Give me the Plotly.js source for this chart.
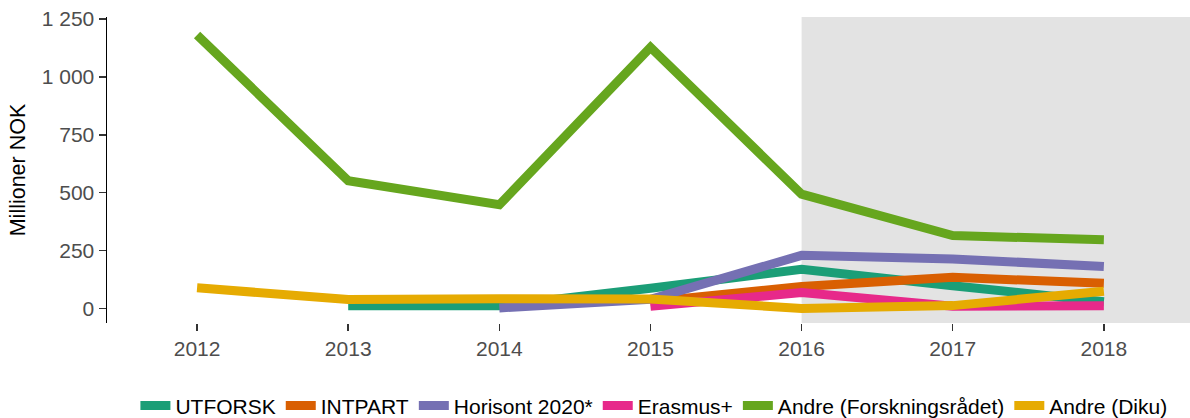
<!DOCTYPE html>
<html>
<head>
<meta charset="utf-8">
<script src="https://cdn.plot.ly/plotly-3.0.1.min.js"></script>
<style>html,body{margin:0;padding:0;background:#fff;}#chart{width:1190px;height:418px;}</style>
</head>
<body>
<div id="chart"></div>
<script>
const years = [2012, 2013, 2014, 2015, 2016, 2017, 2018];
const seriesNames = ["UTFORSK", "INTPART", "Horisont 2020*", "Erasmus+", "Andre (Forskningsrådet)", "Andre (Diku)"];
const utforsk = [null, 12, 12, 88, 170, 99, 30];
const intpart = [null, null, null, 30, 95, 135, 109];
const horisont = [null, null, 3, 40, 230, 214, 182];
const erasmus = [null, null, null, 10, 69, 10, 12];
const andreForsk = [1180, 552, 448, 1127, 494, 315, 297];
const andreDiku = [90, 39, 43, 41, 1, 13, 75];
const colors = ["#1B9E77", "#D95F02", "#7570B3", "#E7298A", "#66A61E", "#E6AB02"];
const shadeStart = 2016;

const allSeries = [utforsk, intpart, horisont, erasmus, andreForsk, andreDiku];
const traces = allSeries.map((vals, i) => ({
  x: years, y: vals, name: seriesNames[i], type: 'scatter', mode: 'lines',
  line: {color: colors[i], width: 9},
  connectgaps: false, hoverinfo: 'skip'
}));

const layout = {
  width: 1190, height: 418,
  margin: {l: 107, r: 0, t: 17, b: 95},
  paper_bgcolor: '#fff', plot_bgcolor: '#fff',
  separators: ', ',
  font: {family: 'Liberation Sans, Arial, sans-serif', color: '#000'},
  xaxis: {
    range: [2011.404, 2018.57], tickvals: years, ticktext: years.map(String),
    showgrid: false, zeroline: false, showline: false, automargin: false,
    ticks: 'outside', ticklen: 7, tickwidth: 1.5, tickcolor: '#333',
    tickfont: {size: 21, color: '#4d4d4d'}
  },
  yaxis: {
    range: [-62, 1258], tickvals: [0, 250, 500, 750, 1000, 1250],
    separatethousands: true, tickformat: ',d', automargin: false,
    showgrid: false, zeroline: false, showline: true, linecolor: '#000', linewidth: 1.5,
    ticks: 'outside', ticklen: 7, tickwidth: 1.5, tickcolor: '#333',
    tickfont: {size: 21, color: '#4d4d4d'},
    title: {text: 'Millioner NOK', font: {size: 21.5, color: '#000'}, standoff: 10}
  },
  shapes: [{
    type: 'rect', layer: 'below', xref: 'x', yref: 'paper',
    x0: shadeStart, x1: 2018.57, y0: 0, y1: 1,
    fillcolor: '#e3e3e3', line: {width: 0}
  }],
  legend: {
    orientation: 'h', xref: 'paper', x: 0.505, xanchor: 'center',
    yref: 'container', y: 0.029, yanchor: 'middle',
    font: {size: 21, color: '#000'}, itemwidth: 30, tracegroupgap: 0
  },
  showlegend: true
};

Plotly.newPlot('chart', traces, layout, {staticPlot: true, displayModeBar: false});
</script>
</body>
</html>
